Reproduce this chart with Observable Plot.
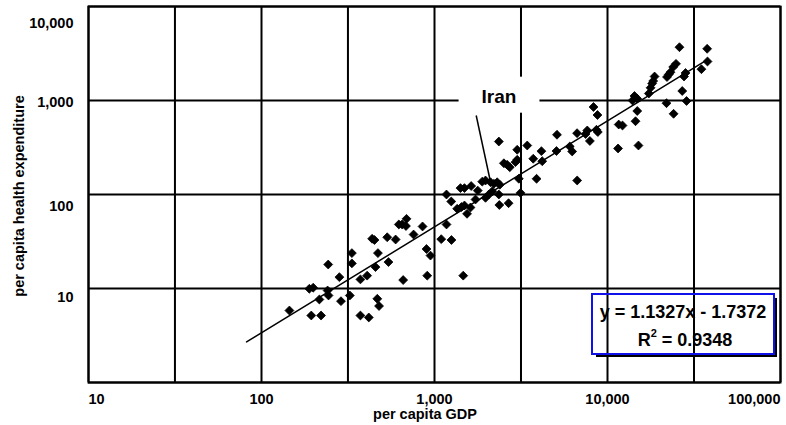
<!DOCTYPE html>
<html>
<head>
<meta charset="utf-8">
<script src="https://cdn.jsdelivr.net/npm/d3@7"></script>
<script src="https://cdn.jsdelivr.net/npm/@observablehq/plot@0.6"></script>
<style>
  body { margin: 0; background: #fff; }
</style>
</head>
<body>
<div id="chart"></div>
<script>
// ---- data ----
const gdp = [145, 189, 199, 194, 221, 216, 243, 241, 244, 282, 288, 324, 333, 333, 373, 373, 408, 417, 456, 436,
  450, 471, 467, 478, 533, 542, 596, 622, 650, 684, 689, 757, 853, 659, 899, 948, 908, 1094, 1253, 1173,
  1173, 1250, 1352, 1432, 1490, 1614, 1542, 1413, 1490, 1629, 1778, 1726, 1888, 1972, 1972, 2061, 2109, 2203, 2303, 2384,
  2158, 2355, 2370, 2680, 2355, 2518, 2630, 2723, 2938, 3006, 3006, 3071, 3141, 1466, 3436, 3722, 4150, 4195, 3890, 5105,
  5070, 6053, 6250, 6670, 6680, 7640, 7470, 8630, 8790, 7910, 8300, 8750, 11610, 12210, 11510, 15100, 14860, 14520, 14320, 14830,
  13960, 17340, 17740, 18370, 18710, 18120, 22080, 22600, 23120, 23970, 24890, 28250, 27690, 26060, 37670, 37840, 34910, 27040, 21930, 28640,
  24100];
const health = [5.83, 9.93, 10.2, 5.16, 5.16, 7.64, 18.0, 9.52, 8.43, 13.2, 7.33, 8.43, 23.8, 18.5, 12.5, 5.16, 13.7, 4.92, 16.9, 33.8,
  32.8, 23.8, 7.77, 6.51, 35.1, 19.1, 33.2, 48.0, 48.0, 46.2, 55.1, 37.5, 45.7, 12.3, 26.3, 22.4, 13.7, 33.5, 32.8, 48.0,
  100, 84.3, 70.5, 73.6, 76.4, 72.7, 62.3, 117, 117, 123, 110, 88.5, 137, 141, 92.2, 100, 135, 130, 135, 127,
  108, 100, 77.3, 80.8, 366, 215, 207, 195, 221, 234, 299, 147, 104, 13.7, 332, 240, 289, 226, 147, 432,
  290, 324, 287, 449, 141, 480, 440, 488, 462, 371, 853, 701, 555, 542, 309, 332, 773, 602, 1117, 1050,
  1000, 1187, 1365, 1612, 1800, 1517, 1778, 1891, 2000, 2271, 2456, 1963, 1800, 3690, 3548, 2600, 2153, 1262, 936, 988,
  722];

const trendGdp = [82, 37000];
const trendHealth = [2.7, 2650];

const iran = { gdp: 2109, health: 135 };
const iranLabelAt = { gdp: 2360, health: 1100 };
const iranLeaderFrom = { gdp: 1742, health: 692 };

const xGrid = [10, 31.6, 100, 316, 1000, 3162, 10000, 31623, 100000];
const yGrid = [1, 10, 100, 1000, 10000];
const xTickLabels = [10, 100, 1000, 10000, 100000];
const yTickLabels = [10000, 1000, 100, 10];

const xTitle = "per capita GDP";
const yTitle = "per capita health expenditure";
const eqLine1 = "y = 1.1327x - 1.7372";
const eqR2 = "0.9348";

// ---- build ----
const points = gdp.map((g, i) => ({ gdp: g, health: health[i] }));
const trend = trendGdp.map((g, i) => ({ gdp: g, health: trendHealth[i] }));
const fmt = d3.format(",");
const font = "'Liberation Sans', Arial, Helvetica, sans-serif";

const W = 786, H = 425, mL = 88, mR = 6, mT = 6, mB = 43;
const yLabelDy = [17, 2, 12, 9];

const chart = Plot.plot({
  width: W, height: H,
  marginLeft: mL, marginRight: mR, marginTop: mT, marginBottom: mB,
  x: { type: "log", domain: [10, 100000], label: null },
  y: { type: "log", domain: [1, 10000], label: null },
  style: { fontFamily: font, fontSize: "14.5px", fontWeight: "bold", color: "#000", background: "#fff", overflow: "visible" },
  marks: [
    Plot.ruleX(xGrid, { stroke: "#000", strokeWidth: 2 }),
    Plot.ruleY(yGrid, { stroke: "#000", strokeWidth: 2 }),
    Plot.frame({ stroke: "#000", strokeWidth: 2 }),
    ...yTickLabels.map((v, i) => Plot.axisY([v], { tickSize: 0, tickPadding: 15, tickFormat: fmt, dy: yLabelDy[i], label: null })),
    Plot.axisX([xTickLabels[0]], { tickSize: 0, tickPadding: 11, tickFormat: fmt, textAnchor: "start", label: null }),
    Plot.axisX(xTickLabels.slice(1, -1), { tickSize: 0, tickPadding: 11, tickFormat: fmt, label: null }),
    Plot.axisX([xTickLabels[xTickLabels.length - 1]], { tickSize: 0, tickPadding: 11, tickFormat: fmt, textAnchor: "end", label: null }),
    Plot.text([xTitle], { text: d => d, frameAnchor: "bottom", lineAnchor: "middle", textAnchor: "middle", dy: 32, dx: -9.5, fill: "#000" }),
    Plot.text([yTitle], { text: d => d, frameAnchor: "left", lineAnchor: "middle", textAnchor: "middle", rotate: -90, dx: -69, dy: 1.5, fill: "#000" }),
    Plot.line(trend, { x: "gdp", y: "health", stroke: "#000", strokeWidth: 1.5 }),
    Plot.link([iran], { x1: () => iranLeaderFrom.gdp, y1: () => iranLeaderFrom.health, x2: "gdp", y2: "health", stroke: "#000", strokeWidth: 1.5 }),
    Plot.text([iranLabelAt], { x: "gdp", y: "health", text: () => "Iran", fontSize: 19, fill: "#000" }),
    Plot.dot(points, { x: "gdp", y: "health", symbol: "diamond2", r: 4, fill: "#000", stroke: "#000", strokeWidth: 0.8, strokeLinejoin: "round" })
  ]
});

document.getElementById("chart").appendChild(chart);

// white box behind the "Iran" label
const svg = d3.select(chart);
const svgRect = chart.getBoundingClientRect();
svg.selectAll("text").each(function () {
  if (this.textContent === "Iran") {
    const r = this.getBoundingClientRect();
    const g = this.parentNode;
    const rect = document.createElementNS("http://www.w3.org/2000/svg", "rect");
    rect.setAttribute("x", r.left - svgRect.left - 23);
    rect.setAttribute("y", r.top - svgRect.top - 9);
    rect.setAttribute("width", r.width + 46);
    rect.setAttribute("height", r.height + 15);
    rect.setAttribute("fill", "#fff");
    g.parentNode.insertBefore(rect, g);
  }
});

// equation box (bottom right of the frame)
const fr = W - mR, fb = H - mB;
const bw = 182, bh = 60;
const bx = fr - 6 - bw, by = fb - 28 - bh;
const eq = svg.append("g").attr("font-family", font).attr("font-weight", "bold").attr("font-size", 18).attr("fill", "#000");
eq.append("path")
  .attr("d", `M${bx + bw + 1.5},${by + 4} V${by + bh + 1.5} H${bx + 4}`)
  .attr("fill", "none").attr("stroke", "#000").attr("stroke-width", 3);
eq.append("rect")
  .attr("x", bx).attr("y", by).attr("width", bw).attr("height", bh)
  .attr("fill", "none").attr("stroke", "#1010e8").attr("stroke-width", 2);
eq.append("text").attr("x", bx + bw / 2).attr("y", by + 24).attr("text-anchor", "middle").text(eqLine1);
const t2 = eq.append("text").attr("x", bx + bw / 2 + 2).attr("y", by + 52).attr("text-anchor", "middle");
t2.append("tspan").text("R");
t2.append("tspan").attr("font-size", 11).attr("dy", -9).text("2");
t2.append("tspan").attr("dy", 9).text(" = " + eqR2);
</script>
</body>
</html>
